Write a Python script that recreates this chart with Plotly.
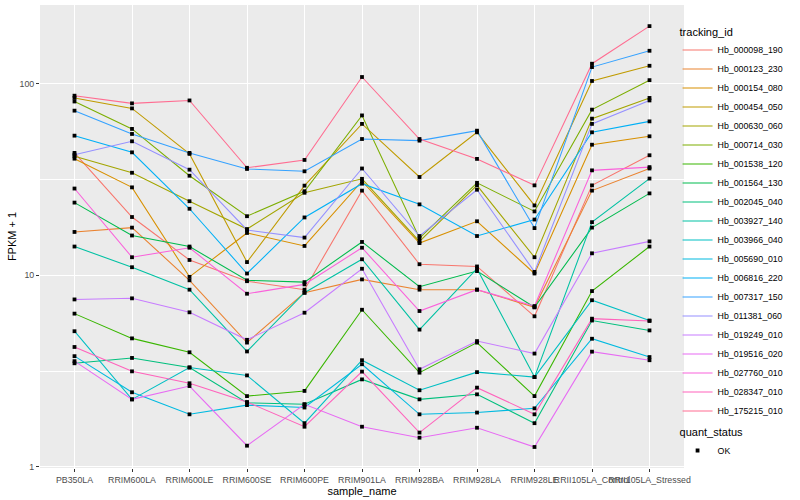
import plotly.graph_objects as go

categories = ["PB350LA", "RRIM600LA", "RRIM600LE", "RRIM600SE", "RRIM600PE", "RRIM901LA",
              "RRIM928BA", "RRIM928LA", "RRIM928LE", "RRII105LA_Control", "RRII105LA_Stressed"]

tracking_ids = ["Hb_000098_190", "Hb_000123_230", "Hb_000154_080", "Hb_000454_050", "Hb_000630_060",
                "Hb_000714_030", "Hb_001538_120", "Hb_001564_130", "Hb_002045_040", "Hb_003927_140",
                "Hb_003966_040", "Hb_005690_010", "Hb_006816_220", "Hb_007317_150", "Hb_011381_060",
                "Hb_019249_010", "Hb_019516_020", "Hb_027760_010", "Hb_028347_010", "Hb_175215_010"]

colors = ["#F8766D", "#EA8331", "#D89000", "#C09B00", "#A3A500", "#7CAE00", "#39B600", "#00BB4E",
          "#00BF7D", "#00C1A3", "#00BFC4", "#00BAE0", "#00B0F6", "#35A2FF", "#9590FF", "#C77CFF",
          "#E76BF3", "#FA62DB", "#FF62BC", "#FF6C91"]

# FPKM + 1 per sample, one list per tracking_id
hb_000098_190 = [43.4, 20.1, 12.0, 9.3, 8.4, 27.6, 11.4, 11.1, 6.1, 29.4, 42.2]
hb_000123_230 = [16.8, 17.7, 9.4, 4.45, 8.1, 9.5, 8.4, 8.4, 6.8, 27.6, 36.0]
hb_000154_080 = [40.5, 28.7, 9.8, 16.6, 14.2, 30.9, 14.7, 19.1, 10.2, 47.9, 53.0]
hb_000454_050 = [84.0, 74.1, 42.9, 11.7, 29.3, 61.5, 32.5, 55.6, 23.1, 103.0, 123.6]
hb_000630_060 = [41.7, 34.2, 24.3, 17.4, 26.9, 31.8, 15.0, 29.4, 12.4, 65.5, 84.0]
hb_000714_030 = [80.5, 57.9, 33.0, 20.3, 27.4, 68.1, 15.6, 30.3, 21.5, 73.0, 104.0]
hb_001538_120 = [6.3, 4.68, 3.96, 2.34, 2.49, 6.6, 3.1, 4.45, 2.34, 8.26, 14.1]
hb_001564_130 = [23.9, 16.1, 14.1, 9.4, 9.2, 14.9, 8.7, 10.5, 6.8, 17.7, 26.7]
hb_002045_040 = [3.47, 3.7, 3.3, 2.16, 2.12, 2.86, 2.25, 2.39, 1.69, 5.8, 5.15]
hb_003927_140 = [14.1, 11.0, 8.4, 4.0, 8.1, 12.1, 5.2, 10.8, 2.94, 18.9, 31.9]
hb_003966_040 = [5.1, 2.25, 3.3, 3.0, 1.69, 3.6, 2.51, 3.12, 2.94, 7.4, 5.8]
hb_005690_010 = [3.78, 2.45, 1.88, 2.1, 2.04, 3.43, 1.88, 1.92, 2.02, 4.66, 3.74]
hb_006816_220 = [53.4, 43.7, 22.2, 10.2, 20.0, 30.0, 23.4, 16.0, 19.5, 55.6, 63.4]
hb_007317_150 = [72.1, 54.5, 43.4, 35.8, 34.8, 51.3, 50.3, 56.7, 17.6, 121.7, 148.0]
hb_011381_060 = [42.5, 49.9, 35.5, 17.2, 15.7, 36.0, 16.0, 27.9, 10.4, 61.5, 81.5]
hb_019249_010 = [7.47, 7.57, 6.4, 4.6, 6.37, 10.8, 3.23, 4.53, 3.9, 13.0, 15.0]
hb_019516_020 = [3.56, 2.25, 2.64, 1.29, 2.12, 1.62, 1.42, 1.60, 1.27, 3.99, 3.6]
hb_027760_010 = [28.3, 12.4, 13.9, 8.0, 8.95, 13.9, 6.5, 8.4, 6.9, 35.2, 36.6]
hb_028347_010 = [4.22, 3.15, 2.73, 2.18, 1.62, 3.14, 1.51, 2.59, 1.88, 5.93, 5.77]
hb_175215_010 = [86.3, 78.7, 81.5, 36.3, 39.9, 108.0, 51.3, 40.4, 29.4, 126.7, 199.0]

series = [hb_000098_190, hb_000123_230, hb_000154_080, hb_000454_050, hb_000630_060,
          hb_000714_030, hb_001538_120, hb_001564_130, hb_002045_040, hb_003927_140,
          hb_003966_040, hb_005690_010, hb_006816_220, hb_007317_150, hb_011381_060,
          hb_019249_010, hb_019516_020, hb_027760_010, hb_028347_010, hb_175215_010]

quant_status = "OK"

FONT = "Liberation Sans, Arial, Helvetica, sans-serif"

fig = go.Figure()
for name, vals, col in zip(tracking_ids, series, colors):
    fig.add_trace(go.Scatter(x=categories, y=vals, mode="lines", name=name,
                             line=dict(color=col, width=1.07), legend="legend"))

all_x = [c for _ in series for c in categories]
all_y = [v for vals in series for v in vals]
fig.add_trace(go.Scatter(x=all_x, y=all_y, mode="markers", name=quant_status,
                         marker=dict(color="black", symbol="square", size=3.8),
                         legend="legend2"))

fig.update_layout(
    width=800, height=500,
    margin=dict(l=40, r=116, t=5, b=32),
    paper_bgcolor="white", plot_bgcolor="#EBEBEB",
    font=dict(family=FONT, size=8.8, color="black"),
    showlegend=True,
    legend=dict(x=0.99, xanchor="left", y=0.965, yanchor="top",
                title=dict(text="tracking_id", font=dict(size=11, color="black")),
                font=dict(size=8.8, color="black"), itemwidth=30,
                bgcolor="rgba(0,0,0,0)"),
    legend2=dict(x=0.99, xanchor="left", y=0.10, yanchor="top",
                 title=dict(text="quant_status", font=dict(size=11, color="black")),
                 font=dict(size=8.8, color="black"), itemwidth=30,
                 bgcolor="rgba(0,0,0,0)"),
    xaxis=dict(type="category", categoryorder="array", categoryarray=categories,
               range=[-0.6, 10.6], showgrid=True, gridcolor="white", gridwidth=1.07,
               zeroline=False, showline=False, ticks="outside", ticklen=3,
               tickcolor="#333333", tickwidth=1, tickangle=0,
               tickfont=dict(size=8.8, color="#4D4D4D"),
               title=dict(text="sample_name", font=dict(size=11, color="black"), standoff=1),
               automargin=False),
    yaxis=dict(type="log", range=[-0.0058, 2.409], tickmode="array",
               tickvals=[1, 10, 100], ticktext=["1", "10", "100"],
               showgrid=True, gridcolor="white", gridwidth=1.07,
               minor=dict(tickvals=[10 ** 0.5, 10 ** 1.5], showgrid=True,
                          gridcolor="white", gridwidth=0.53, ticks=""),
               zeroline=False, showline=False, ticks="outside", ticklen=3,
               tickcolor="#333333", tickwidth=1,
               tickfont=dict(size=8.8, color="#4D4D4D"),
               title=dict(text="FPKM + 1", font=dict(size=11, color="black"), standoff=0),
               automargin=False),
)

fig.write_html("out.html", config={"displayModeBar": False},
               post_script="document.body.style.margin='0';document.body.style.overflow='hidden';")
